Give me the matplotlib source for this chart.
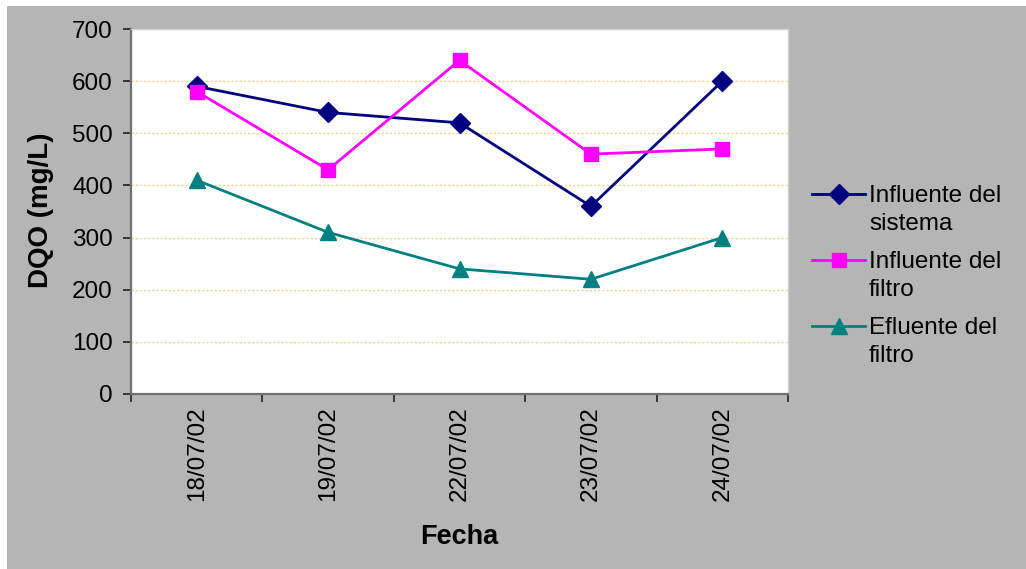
import numpy as np
import matplotlib
matplotlib.use("Agg")
import matplotlib.pyplot as plt
from matplotlib.patches import Rectangle
from matplotlib.lines import Line2D

plt.rcParams["font.family"] = ["Liberation Sans", "DejaVu Sans"]

fechas = ["18/07/02", "19/07/02", "22/07/02", "23/07/02", "24/07/02"]
influente_sistema = [590, 540, 520, 360, 600]
influente_filtro = [580, 430, 640, 460, 470]
efluente_filtro = [410, 310, 240, 220, 300]

y_ticks = [0, 100, 200, 300, 400, 500, 600, 700]

W, H = 1026, 569


def fx(px):
    return px / W


def fy(py):
    return 1 - py / H


fig = plt.figure(figsize=(W / 100, H / 100), dpi=100, facecolor="white")
# grey chart area, leaving a thin white strip top and left
fig.add_artist(Rectangle((fx(7), 0), 1 - fx(7), fy(6), transform=fig.transFigure,
                         facecolor="#b5b5b5", edgecolor="none", zorder=0))

ax = fig.add_axes([fx(131), fy(394), fx(788) - fx(131), fy(29) - fy(394)])
ax.set_facecolor("white")

x = np.arange(len(fechas))
series = [
    (influente_sistema, "#000080", "D", 10, "Influente del\nsistema"),
    (influente_filtro, "#ff00ff", "s", 10, "Influente del\nfiltro"),
    (efluente_filtro, "#008080", "^", 11.5, "Efluente del\nfiltro"),
]
for vals, color, marker, ms, _ in series:
    ax.plot(x, vals, color=color, lw=2, marker=marker, ms=ms,
            markeredgecolor=color, zorder=3, clip_on=False)

ax.set_xlim(-0.5, len(fechas) - 0.5)
ax.set_ylim(0, 700)
ax.set_yticks(y_ticks)
ax.set_yticklabels([str(v) for v in y_ticks])

ax.grid(axis="y", color="#ffcc88", lw=1, ls=(0, (1.5, 1.5)))
gl = ax.get_ygridlines()
gl[0].set_visible(False)
gl[-1].set_visible(False)
ax.set_axisbelow(True)

ax.set_xticks(x)
ax.set_xticklabels(fechas)
ax.set_xticks(np.arange(-0.5, len(fechas)), minor=True)
ax.tick_params(axis="x", which="major", length=0, pad=9, labelrotation=90,
               labelsize=17.5)
ax.tick_params(axis="x", which="minor", length=6, width=1.2, color="#222222",
               direction="out")
ax.tick_params(axis="y", length=6, width=1.2, color="#222222", pad=7,
               labelsize=17.5)

for side in ["left", "bottom"]:
    ax.spines[side].set_color("#707070")
    ax.spines[side].set_linewidth(1.6)
for side in ["top", "right"]:
    ax.spines[side].set_color("#cfcfcf")
    ax.spines[side].set_linewidth(1)

fig.text(fx(41), fy(210), "DQO (mg/L)", rotation=90, ha="center", va="center",
         fontsize=20, fontweight="bold")
fig.text(fx(459), fy(537), "Fecha", ha="center", va="center",
         fontsize=19.5, fontweight="bold")

# legend entries, handle aligned with first text line
entry_y = [194, 260, 326]
for (vals, color, marker, ms, label), ey in zip(series, entry_y):
    fig.add_artist(Line2D([fx(812), fx(865)], [fy(ey), fy(ey)], color=color,
                          lw=2, transform=fig.transFigure))
    fig.add_artist(Line2D([fx(838.5)], [fy(ey)], color=color, marker=marker,
                          ms=ms, transform=fig.transFigure))
    for i, line in enumerate(label.split("\n")):
        fig.text(fx(869), fy(ey + 27 * i), line, ha="left",
                 va="center_baseline", fontsize=17.5)

fig.savefig("out.png", dpi=100, facecolor=fig.get_facecolor())
